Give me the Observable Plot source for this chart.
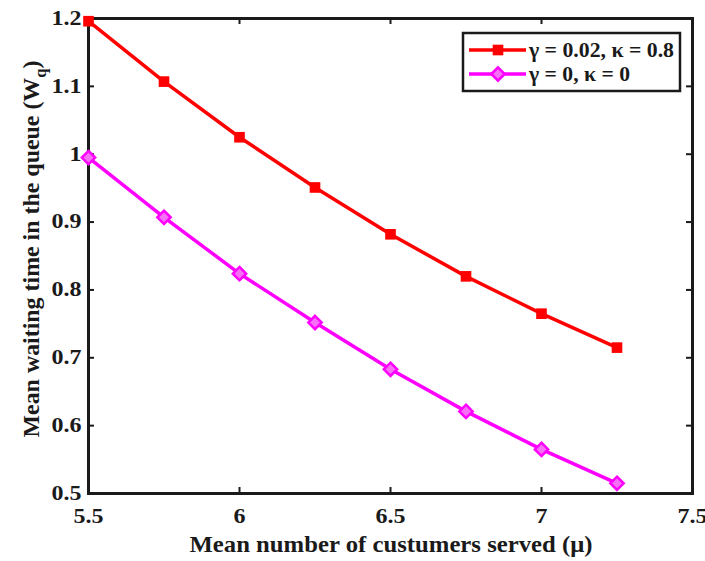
<!DOCTYPE html>
<html><head><meta charset="utf-8">
<script src="https://cdn.jsdelivr.net/npm/d3@7"></script>
<script src="https://cdn.jsdelivr.net/npm/@observablehq/plot@0.6"></script>
<style>
body{margin:0;background:#fff;}
#wrap{position:relative;width:705px;height:561px;}
#wrap svg{display:block;}
#legend{position:absolute;left:0;top:0;pointer-events:none;}
</style></head><body><div id="wrap"></div>
<script>
const mu = [5.5, 5.75, 6, 6.25, 6.5, 6.75, 7, 7.25];
const wqA = [1.196, 1.107, 1.025, 0.951, 0.882, 0.820, 0.765, 0.715];
const wqB = [0.995, 0.907, 0.824, 0.752, 0.683, 0.621, 0.565, 0.515];
const seriesNames = ["γ = 0.02, κ = 0.8", "γ = 0, κ = 0"];
const seriesColors = ["#ff0000", "#ff00ff"];
const xTicks = [5.5, 6, 6.5, 7, 7.5];
const xTickLabels = ["5.5", "6", "6.5", "7", "7.5"];
const yTicks = [0.5, 0.6, 0.7, 0.8, 0.9, 1.0, 1.1, 1.2];
const yTickLabels = ["0.5", "0.6", "0.7", "0.8", "0.9", "1", "1.1", "1.2"];
const xTitle = "Mean number of custumers served (μ)";
const yTitleMain = "Mean waiting time in the queue (W";
const yTitleSub = "q";

const rowsA = mu.map((m, i) => ({mu: m, wq: wqA[i]}));
const rowsB = mu.map((m, i) => ({mu: m, wq: wqB[i]}));

const W = 705, H = 561, mL = 88, mR = 13, mT = 18, mB = 68;
const pw = W - mL - mR, ph = H - mT - mB;
const serif = "'Liberation Serif', 'Times New Roman', serif";
const ink = "#1a1a1a";

const chart = Plot.plot({
  width: W, height: H,
  marginLeft: mL, marginRight: mR, marginTop: mT, marginBottom: mB,
  x: {domain: [5.5, 7.5], label: null},
  y: {domain: [0.5, 1.2], label: null},
  style: {fontFamily: serif, fontWeight: "bold", fontSize: "20px", color: ink, background: "#fff"},
  marks: [
    Plot.axisX(xTicks, {tickSize: 0, tickPadding: 15, fontSize: 20, tickFormat: d => xTickLabels[xTicks.indexOf(d)]}),
    Plot.axisY(yTicks, {tickSize: 0, tickPadding: 7, fontSize: 20, tickFormat: d => yTickLabels[yTicks.indexOf(d)]}),
    Plot.tickX(xTicks, {x: d => d, insetTop: ph - 6, stroke: ink, strokeWidth: 2}),
    Plot.tickX(xTicks, {x: d => d, insetBottom: ph - 6, stroke: ink, strokeWidth: 2}),
    Plot.tickY(yTicks, {y: d => d, insetRight: pw - 6, stroke: ink, strokeWidth: 2}),
    Plot.tickY(yTicks, {y: d => d, insetLeft: pw - 6, stroke: ink, strokeWidth: 2}),
    Plot.frame({stroke: ink, strokeWidth: 3}),
    Plot.line(rowsA, {x: "mu", y: "wq", stroke: seriesColors[0], strokeWidth: 3.5}),
    Plot.line(rowsB, {x: "mu", y: "wq", stroke: seriesColors[1], strokeWidth: 3.5}),
    Plot.dot(rowsA, {x: "mu", y: "wq", symbol: "square", fill: seriesColors[0], r: 6}),
    Plot.dot(rowsB, {x: "mu", y: "wq", symbol: "diamond2", stroke: seriesColors[1], fill: "#f870f8", strokeWidth: 2.5, r: 6})
  ]
});

const wrap = document.getElementById("wrap");
wrap.appendChild(chart);
const svg = d3.select(chart);

// tick labels: bold serif, slightly widened like the reference
svg.selectAll("text").each(function() {
  const t = d3.select(this);
  t.attr("font-size", 20).style("font-size", "20px")
   .attr("font-family", serif).style("font-family", serif).attr("font-weight", "bold");
  const len = this.getComputedTextLength();
  if (len > 0) t.attr("textLength", len * 1.2).attr("lengthAdjust", "spacingAndGlyphs");
});

svg.append("text")
  .attr("x", 391).attr("y", 552)
  .attr("text-anchor", "middle")
  .attr("font-family", serif).attr("font-weight", "bold").attr("font-size", 24)
  .attr("fill", ink)
  .attr("textLength", 403).attr("lengthAdjust", "spacingAndGlyphs")
  .text(xTitle);
const yt = svg.append("text")
  .attr("transform", `translate(39,249) rotate(-90)`)
  .attr("text-anchor", "middle")
  .attr("font-family", serif).attr("font-weight", "bold").attr("font-size", 23)
  .attr("fill", ink)
  .attr("textLength", 377).attr("lengthAdjust", "spacingAndGlyphs");
yt.append("tspan").text(yTitleMain);
yt.append("tspan").attr("dy", 7).attr("font-size", 16).text(yTitleSub);
yt.append("tspan").attr("dy", -7).text(")");

const leg = d3.select(wrap).append("svg").attr("id", "legend").attr("width", W).attr("height", H);
const lx = 463, ly = 33, lw = 217, lh = 58;
leg.append("rect").attr("x", lx).attr("y", ly).attr("width", lw).attr("height", lh)
  .attr("fill", "#fff").attr("stroke", ink).attr("stroke-width", 2.5);
const textLens = [145, 101];
seriesNames.forEach((name, i) => {
  const cy = ly + 17 + i * 24;
  leg.append("line").attr("x1", lx + 6).attr("x2", lx + 63).attr("y1", cy).attr("y2", cy)
    .attr("stroke", seriesColors[i]).attr("stroke-width", 3.5);
  const sym = i === 0 ? d3.symbolSquare : d3.symbolDiamond2;
  leg.append("path").attr("d", d3.symbol(sym, Math.PI * 6 * 6)())
    .attr("transform", `translate(${lx + 35},${cy})`)
    .attr("fill", i === 0 ? seriesColors[0] : "#f870f8")
    .attr("stroke", i === 0 ? "none" : seriesColors[1]).attr("stroke-width", 2.5);
  leg.append("text").attr("x", lx + 66).attr("y", cy + 7)
    .attr("font-family", serif).attr("font-weight", "bold").attr("font-size", 20)
    .attr("fill", ink)
    .attr("textLength", textLens[i]).attr("lengthAdjust", "spacingAndGlyphs")
    .text(name);
});
</script></body></html>
